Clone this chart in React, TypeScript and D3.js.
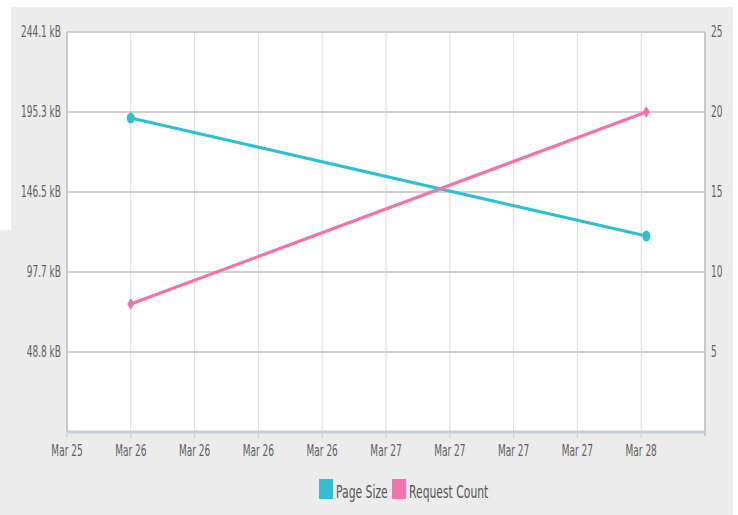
import React, { useEffect, useRef } from "react";
import * as d3 from "d3";

// x tick labels (one per grid step) and the data points in grid-step units
const tickLabels = ["Mar 25", "Mar 26", "Mar 26", "Mar 26", "Mar 26", "Mar 27", "Mar 27", "Mar 27", "Mar 27", "Mar 28"];
const pointX = [1, 9.08];
const pageSizeKB = [191.6, 119.6];
const requestCount = [8, 20];
const leftTicksKB = [0, 48.8, 97.7, 146.5, 195.3, 244.1];
const rightTicks = [0, 5, 10, 15, 20, 25];
const seriesNames = ["Page Size", "Request Count"];
const seriesColors = ["#2fc0cf", "#f272aa"];

export default function App() {
  const ref = useRef<SVGSVGElement | null>(null);

  useEffect(() => {
    const svg = d3.select(ref.current);
    svg.selectAll("*").remove();

    const W = 738, H = 515;
    const m = { left: 67, right: 705, top: 32, bottom: 432 };
    const squash = 0.6;

    // page background
    svg.append("rect").attr("width", W).attr("height", H).attr("fill", "#fff");
    svg.append("rect").attr("x", 11).attr("y", 7).attr("width", 722).attr("height", H - 7).attr("fill", "#ececec");
    svg.append("rect").attr("x", 0).attr("y", 230).attr("width", 12).attr("height", H - 230).attr("fill", "#ececec");

    const x = d3.scaleLinear().domain([0, 10]).range([m.left, m.right]);
    const yL = d3.scaleLinear().domain([0, 244.1]).range([m.bottom, m.top]);
    const yR = d3.scaleLinear().domain([0, 25]).range([m.bottom, m.top]);

    svg.append("rect")
      .attr("x", m.left).attr("y", m.top)
      .attr("width", m.right - m.left).attr("height", m.bottom - m.top)
      .attr("fill", "#fff");

    // vertical grid
    svg.append("g").selectAll("line")
      .data(d3.range(1, 10))
      .join("line")
      .attr("x1", d => x(d)).attr("x2", d => x(d))
      .attr("y1", m.top).attr("y2", m.bottom)
      .attr("stroke", "#dcdcdc").attr("stroke-width", 1);

    // horizontal grid
    svg.append("g").selectAll("line")
      .data(leftTicksKB.slice(1))
      .join("line")
      .attr("x1", m.left).attr("x2", m.right)
      .attr("y1", d => yL(d)).attr("y2", d => yL(d))
      .attr("stroke", "#cfcfcf").attr("stroke-width", 2);

    // frame sides
    svg.append("line").attr("x1", m.left).attr("x2", m.left).attr("y1", m.top).attr("y2", m.bottom)
      .attr("stroke", "#c8c8c8").attr("stroke-width", 2);
    svg.append("line").attr("x1", m.right).attr("x2", m.right).attr("y1", m.top).attr("y2", m.bottom + 4)
      .attr("stroke", "#c8c8c8").attr("stroke-width", 2);

    // x axis
    svg.append("line").attr("x1", m.left).attr("x2", m.right).attr("y1", m.bottom).attr("y2", m.bottom)
      .attr("stroke", "#c6cfdb").attr("stroke-width", 3);
    svg.append("g").selectAll("line")
      .data(d3.range(0, 10))
      .join("line")
      .attr("x1", d => x(d)).attr("x2", d => x(d))
      .attr("y1", m.bottom).attr("y2", m.bottom + 6)
      .attr("stroke", "#c6cfdb").attr("stroke-width", 1);

    const label = (g: any, tx: number, ty: number, txt: string, size: number, anchor: string, fill = "#5f5f5f") => {
      g.append("text")
        .attr("transform", `translate(${tx},${ty}) scale(${squash},1)`)
        .attr("text-anchor", anchor)
        .attr("font-family", "'DejaVu Sans', sans-serif")
        .attr("font-size", size)
        .attr("fill", fill)
        .text(txt);
    };

    const texts = svg.append("g");
    tickLabels.forEach((t, i) => label(texts, x(i), 456, t, 15, "middle"));
    leftTicksKB.slice(1).forEach(v => label(texts, 61, yL(v) + 5, `${v.toFixed(1)} kB`, 15, "end"));
    rightTicks.slice(1).forEach(v => label(texts, 711, yR(v) + 5, `${v}`, 15, "start"));

    // series
    const line = d3.line<[number, number]>();
    const pagePts: [number, number][] = pointX.map((px, i) => [x(px), yL(pageSizeKB[i])]);
    const reqPts: [number, number][] = pointX.map((px, i) => [x(px), yR(requestCount[i])]);

    svg.append("path").attr("d", line(pagePts)).attr("fill", "none")
      .attr("stroke", seriesColors[0]).attr("stroke-width", 3.2);
    svg.append("g").selectAll("ellipse").data(pagePts).join("ellipse")
      .attr("cx", d => d[0]).attr("cy", d => d[1]).attr("rx", 4).attr("ry", 5.5)
      .attr("fill", seriesColors[0]);

    svg.append("path").attr("d", line(reqPts)).attr("fill", "none")
      .attr("stroke", seriesColors[1]).attr("stroke-width", 3.2);
    svg.append("g").selectAll("path").data(reqPts).join("path")
      .attr("d", d => `M${d[0]},${d[1] - 6}L${d[0] + 3.5},${d[1]}L${d[0]},${d[1] + 6}L${d[0] - 3.5},${d[1]}Z`)
      .attr("fill", seriesColors[1]);

    // legend
    const legend = svg.append("g");
    const legX = [319, 392];
    seriesNames.forEach((name, i) => {
      legend.append("rect").attr("x", legX[i]).attr("y", 479).attr("width", 14).attr("height", 20)
        .attr("fill", seriesColors[i]);
      label(legend, legX[i] + 17, 498, name, 18, "start", "#555");
    });
  }, []);

  return (
    <svg ref={ref} width={738} height={515} style={{ position: "absolute", left: 0, top: 0 }} />
  );
}
